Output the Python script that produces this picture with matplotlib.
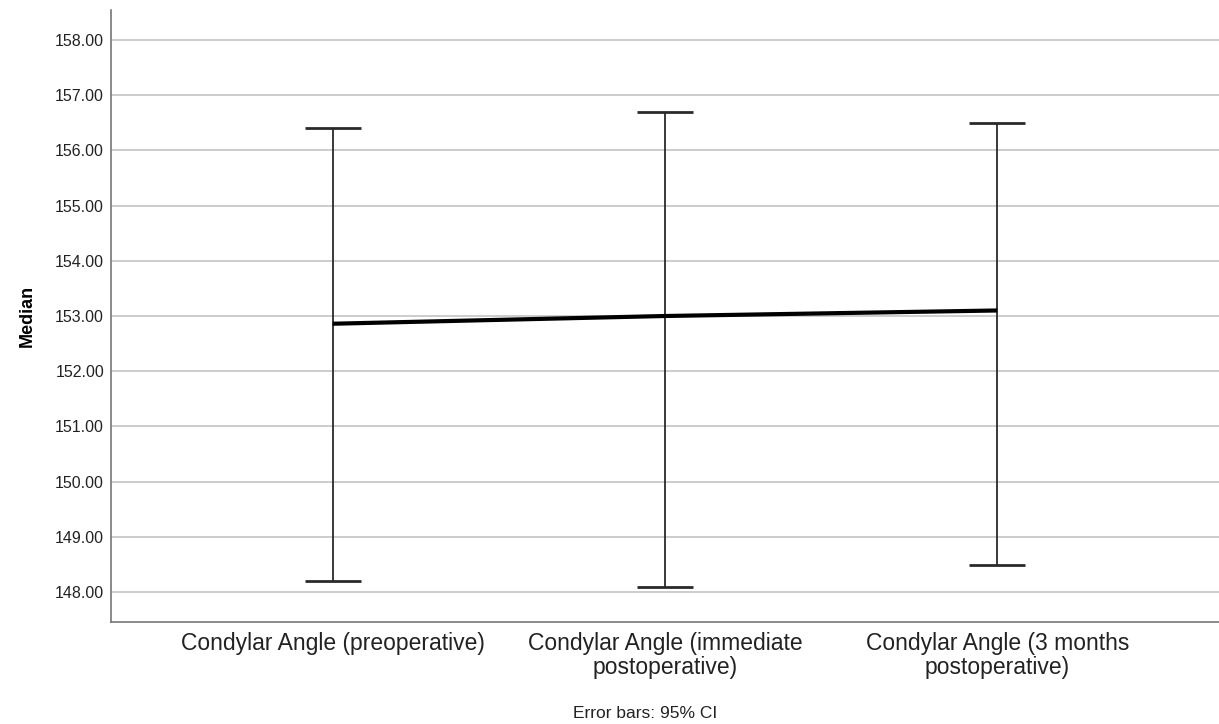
import matplotlib
matplotlib.use("Agg")
import matplotlib.pyplot as plt
import numpy as np

plt.rcParams['font.family'] = ['Liberation Sans', 'DejaVu Sans']

categories = ["Condylar Angle (preoperative)", "Condylar Angle (immediate\npostoperative)",
              "Condylar Angle (3 months\npostoperative)"]
medians = [152.86, 153.0, 153.1]
ci_low = [148.2, 148.1, 148.5]
ci_high = [156.4, 156.7, 156.5]
yticks = [148, 149, 150, 151, 152, 153, 154, 155, 156, 157, 158]

fig = plt.figure(figsize=(12.19, 7.24), dpi=100)
ax = fig.add_axes([111/1219, 1-622/724, 1-111/1219, 612/724])

x = np.arange(len(categories))
ax.plot(x, medians, color='black', lw=3, zorder=3, solid_capstyle='butt')
med = np.array(medians)
ax.errorbar(x, med, yerr=[med - np.array(ci_low), np.array(ci_high) - med], fmt='none',
            ecolor='#2a2a2a', elinewidth=1.3, capsize=20, capthick=2, zorder=2)

ax.set_xlim(-0.667, 2.667)
ax.set_ylim(147.46, 158.54)
ax.set_yticks(yticks)
ax.set_yticklabels([f"{v:.2f}" for v in yticks], fontsize=11.5, color='#222222')
ax.set_xticks(x)
ax.set_xticklabels(categories, fontsize=16.5, color='#222222', linespacing=1.05)
ax.tick_params(axis='both', length=0)
ax.tick_params(axis='y', pad=5)
ax.tick_params(axis='x', pad=7)
ax.grid(axis='y', color='#c8c8c8', lw=1.3)
ax.set_axisbelow(True)
for s in ['top', 'right']:
    ax.spines[s].set_visible(False)
for s in ['left', 'bottom']:
    ax.spines[s].set_color('#777777')
    ax.spines[s].set_linewidth(1.2)

ax.set_ylabel("Median", fontsize=13, fontweight='bold', labelpad=14)
fig.text(645/1219, 1-714/724, "Error bars: 95% CI", ha='center', va='center', fontsize=12.5, color='#222222')

fig.savefig("out.png", dpi=100)
